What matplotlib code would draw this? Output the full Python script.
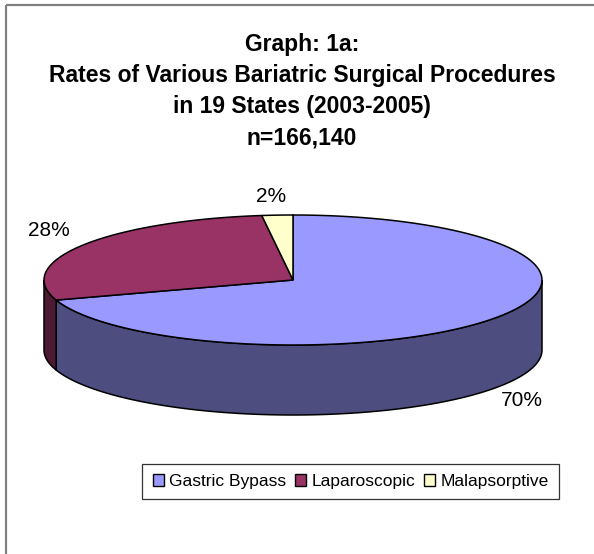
import numpy as np
import matplotlib
matplotlib.use("Agg")
import matplotlib.pyplot as plt
from matplotlib.patches import Polygon, Patch, Rectangle

# data
labels = ["Gastric Bypass", "Laparoscopic", "Malapsorptive"]
shares = [70, 28, 2]
pct_text = ["70%", "28%", "2%"]
top_colors = ["#9999FF", "#993366", "#FFFFCC"]
side_colors = ["#4D4D80", "#4D1A33", "#808066"]
title_lines = ["Graph: 1a:",
               "Rates of Various Bariatric Surgical Procedures",
               "in 19 States (2003-2005)",
               "n=166,140"]

# pie geometry (pixels)
cx, cy = 293, 280
rx, ry = 249, 65
depth = 70
label_xy = [(522, 400), (49, 231), (271, 196)]

plt.rcParams['font.family'] = ['Liberation Sans', 'DejaVu Sans']

fig = plt.figure(figsize=(5.94, 5.54), dpi=100)
ax = fig.add_axes([0, 0, 1, 1])
ax.set_xlim(0, 594)
ax.set_ylim(554, 0)
ax.axis('off')

# outer frame
ax.add_patch(Rectangle((6, 5), 620, 600, fill=False, edgecolor='#808080', lw=1.6))


def arc(a0, a1, dz=0, n=120):
    t = np.radians(np.linspace(a0, a1, n))
    return np.column_stack([cx + rx * np.cos(t), cy - ry * np.sin(t) + dz])


total = float(sum(shares))
starts = []
a = 90.0
for v in shares:
    a_end = a - v / total * 360.0
    starts.append((a, a_end))
    a = a_end

# side walls (front half only: angles -180..0)
for (a0, a1), col in zip(starts, side_colors):
    for lo, hi in [(-180, 0), (-540, -360)]:
        s = min(a0, hi)
        e = max(a1, lo)
        if s > e:
            top = arc(s, e)
            bot = arc(e, s, depth)
            ax.add_patch(Polygon(np.vstack([top, bot]), closed=True,
                                 facecolor=col, edgecolor='black', lw=1.1, zorder=2))

# top faces
for (a0, a1), col in zip(starts, top_colors):
    pts = np.vstack([[cx, cy], arc(a0, a1)])
    ax.add_patch(Polygon(pts, closed=True, facecolor=col,
                         edgecolor='black', lw=1.1, zorder=3))

for txt, (x, y) in zip(pct_text, label_xy):
    ax.text(x, y, txt, fontsize=15, ha='center', va='center', zorder=4)

fig.text(302 / 594, 1 - 91 / 554, "\n".join(title_lines), fontsize=16.5,
         fontweight='bold', ha='center', va='center', linespacing=1.45)

handles = [Patch(facecolor=c, edgecolor='black', lw=1) for c in top_colors]
leg = fig.legend(handles, labels, loc='center', ncol=3,
                 bbox_to_anchor=(350.5 / 594, 1 - 481.5 / 554),
                 fontsize=12.5, frameon=True, fancybox=False,
                 handlelength=0.65, handleheight=0.65, handletextpad=0.3,
                 columnspacing=0.5, borderpad=0.6, borderaxespad=0)
leg.get_frame().set_edgecolor('black')
leg.get_frame().set_linewidth(0.9)

fig.savefig("out.png", dpi=100)
